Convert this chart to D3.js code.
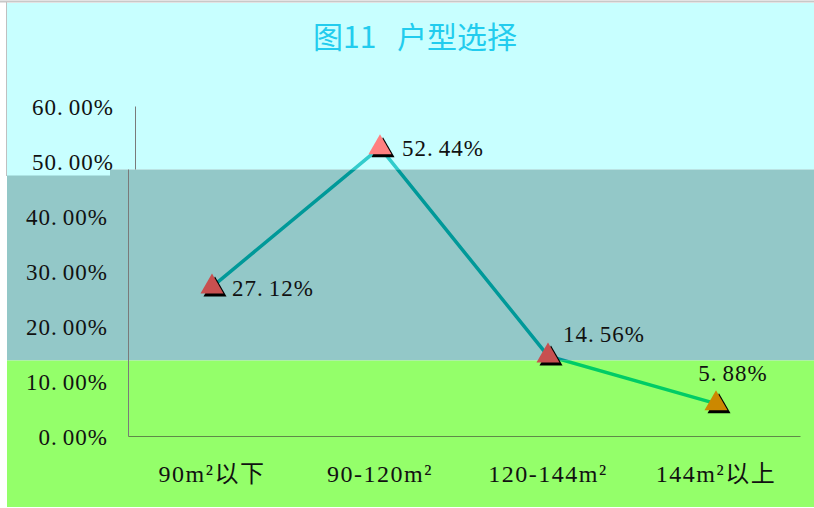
<!DOCTYPE html>
<html><head><meta charset="utf-8">
<script src="https://cdn.jsdelivr.net/npm/d3@7/dist/d3.min.js"></script>
<style>html,body{margin:0;padding:0;background:#fff;}svg{display:block;}</style>
</head><body>
<script>
// ---- data ----
const titleParts = ["图11", "户型选择"];
const categories = ["90m²以下", "90-120m²", "120-144m²", "144m²以上"];
const values = [0.2712, 0.5244, 0.1456, 0.0588];
const valueLabels = ["27.12%", "52.44%", "14.56%", "5.88%"];
const yTicks = [0, 0.1, 0.2, 0.3, 0.4, 0.5, 0.6];
// ---- styles ----
const markerColors = ["#C85050", "#FF8080", "#C85050", "#CC8800"];
const labelOffsets = [[20, 9, "start"], [22, 8, "start"], [15, -14, "start"], [17, -23, "middle"]];

const W = 814, H = 508;
const svg = d3.select("body").append("svg").attr("width", W).attr("height", H);
const serif = "'Liberation Serif','Noto Sans CJK SC',serif";
const FS = 23;

// background bands
const band1 = 169.5, band2 = 360.5;
svg.append("line").attr("x1", 0).attr("x2", W).attr("y1", 1.5).attr("y2", 1.5).attr("stroke", "#c8c8c8").attr("stroke-width", 2);
svg.append("rect").attr("x", 7).attr("y", 3).attr("width", W - 7).attr("height", band1 - 3).attr("fill", "#C8FFFF");
svg.append("rect").attr("x", 7).attr("y", band1).attr("width", W - 7).attr("height", band2 - band1).attr("fill", "#93C8C8");
svg.append("rect").attr("x", 7).attr("y", band2).attr("width", W - 7).attr("height", H - band2 - 1).attr("fill", "#94FF6A");
svg.append("line").attr("x1", 6.5).attr("x2", 6.5).attr("y1", 2).attr("y2", 176).attr("stroke", "#c0c0c0");
svg.append("rect").attr("x", 7).attr("y", band1 - 1).attr("width", 103).attr("height", 7).attr("fill", "#C8FFFF");

const defs = svg.append("defs");
function clip(id, y0, y1) {
  defs.append("clipPath").attr("id", id).append("rect").attr("x", 0).attr("y", y0).attr("width", W).attr("height", y1 - y0);
}
clip("cTop", 0, band1); clip("cMid", band1, band2); clip("cBot", band2, H); clip("cBelow", band1, H);

const x = d3.scaleBand().domain(categories).range([128, 800]);
const y = d3.scaleLinear().domain([0, 0.6]).range([436, 106]);

// title
const tt = svg.append("text").attr("x", 313).attr("y", 48)
  .attr("font-family", "'Noto Sans CJK SC',sans-serif").attr("font-size", 30)
  .attr("fill", "#22CCEE");
tt.append("tspan").text(titleParts[0]);
tt.append("tspan").attr("dx", 14).text(" " + titleParts[1]);

function splitDot(sel, t) {
  const i = t.indexOf(".");
  sel.text(null);
  sel.append("tspan").text(t.slice(0, i + 1));
  sel.append("tspan").attr("dx", 5).text(t.slice(i + 1));
}

// y axis (lower part)
const yAxis = d3.axisLeft(y).tickValues(yTicks).tickSize(0).tickPadding(0).tickFormat(d3.format(".2%"));
const gy = svg.append("g").attr("transform", "translate(128,0)").call(yAxis);
gy.select(".domain").attr("stroke", "#7a7a7a").attr("clip-path", "url(#cBelow)");
svg.append("g").attr("transform", "translate(135,0)").call(yAxis.tickFormat(""))
  .call(g => g.selectAll(".tick").remove())
  .select(".domain").attr("stroke", "#7a7a7a").attr("clip-path", "url(#cTop)");
gy.selectAll(".tick text")
  .attr("font-family", serif).attr("font-size", FS).attr("fill", "#111")
  .attr("letter-spacing", 1)
  .attr("dy", null).attr("y", 8)
  .attr("x", d => y(d) < band1 ? -14 : -20)
  .each(function () { splitDot(d3.select(this), d3.select(this).text()); });

// x axis
const xAxis = d3.axisBottom(x).tickSize(0).tickPadding(0);
const gx = svg.append("g").attr("transform", "translate(0,436)").call(xAxis);
gx.select(".domain").attr("stroke", "#5f8a48");
gx.selectAll(".tick text").attr("font-family", serif).attr("font-size", 24).attr("fill", "#111")
  .attr("letter-spacing", 1.5)
  .attr("dy", null).attr("y", 46);

// line, coloured by background band
const line = d3.line().x((d, i) => x(categories[i]) + x.bandwidth() / 2).y(d => y(d));
[["cTop", "#33CCCC"], ["cMid", "#009999"], ["cBot", "#00CC66"]].forEach(([c, col]) => {
  svg.append("path").datum(values).attr("d", line).attr("fill", "none")
    .attr("stroke", col).attr("stroke-width", 3.5).attr("clip-path", `url(#${c})`);
});

// markers
const tri = d3.symbol(d3.symbolTriangle).size(230);
const pts = svg.append("g").selectAll("g").data(values).join("g")
  .attr("transform", (d, i) => `translate(${x(categories[i]) + x.bandwidth() / 2},${y(d)})`);
pts.append("path").attr("d", tri).attr("fill", "#000").attr("transform", "translate(3,3)");
pts.append("path").attr("d", tri).attr("fill", (d, i) => markerColors[i]);

// data labels
pts.append("text").attr("font-family", serif).attr("font-size", FS).attr("fill", "#111")
  .attr("letter-spacing", 1)
  .attr("x", (d, i) => labelOffsets[i][0]).attr("y", (d, i) => labelOffsets[i][1])
  .attr("text-anchor", (d, i) => labelOffsets[i][2])
  .each(function (d, i) { splitDot(d3.select(this), valueLabels[i]); });
</script>
</body></html>
